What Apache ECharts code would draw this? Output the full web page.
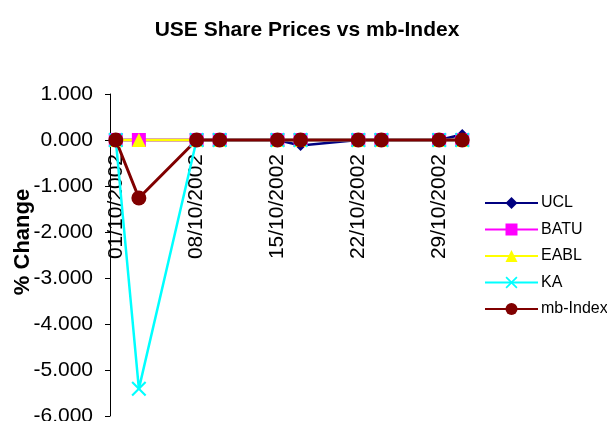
<!DOCTYPE html>
<html>
<head>
<meta charset="utf-8">
<script src="https://cdn.jsdelivr.net/npm/echarts@6/dist/echarts.min.js"></script>
<style>
  html, body { margin: 0; padding: 0; background: #fff; }
  #chart { width: 607px; height: 421px; }
</style>
</head>
<body>
<div id="chart"></div>
<script>
// every day of October 2002 (date axis, one slot per day)
var days = [
  '01/10/2002','02/10/2002','03/10/2002','04/10/2002','05/10/2002','06/10/2002','07/10/2002',
  '08/10/2002','09/10/2002','10/10/2002','11/10/2002','12/10/2002','13/10/2002','14/10/2002',
  '15/10/2002','16/10/2002','17/10/2002','18/10/2002','19/10/2002','20/10/2002','21/10/2002',
  '22/10/2002','23/10/2002','24/10/2002','25/10/2002','26/10/2002','27/10/2002','28/10/2002',
  '29/10/2002','30/10/2002','31/10/2002'
];
// trading days (Tue / Thu)
var tradeDates = ['01/10/2002','03/10/2002','08/10/2002','10/10/2002','15/10/2002',
                  '17/10/2002','22/10/2002','24/10/2002','29/10/2002','31/10/2002'];

var ucl     = [0, 0, 0, 0, 0, -0.12, 0, 0, 0, 0.12];
var batu    = [0, 0, 0, 0, 0, 0, 0, 0, 0, 0];
var eabl    = [0, 0, 0, 0, 0, 0, 0, 0, 0, 0];
var ka      = [0, -5.41, 0, 0, 0, 0, 0, 0, 0, 0];
var mbIndex = [0, -1.26, 0, 0, 0, 0, 0, 0, 0, 0];

var yTicks = [-6, -5, -4, -3, -2, -1, 0, 1];

function pairs(vals) {
  var out = [];
  for (var i = 0; i < vals.length; i++) {
    out.push([tradeDates[i], vals[i]]);
  }
  return out;
}

var crossPath = 'path://M0,1 L1,0 L5,4 L9,0 L10,1 L6,5 L10,9 L9,10 L5,6 L1,10 L0,9 L4,5 Z';

function mkSeries(name, vals, color, symbol, size, width) {
  return {
    name: name,
    type: 'line',
    data: pairs(vals),
    symbol: symbol,
    symbolSize: size,
    showAllSymbol: true,
    lineStyle: { color: color, width: width },
    itemStyle: { color: color },
    emphasis: { disabled: true },
    animation: false
  };
}

var labelFont = { fontFamily: 'Arial', fontSize: 21, color: '#000' };

var mychart = echarts.init(document.getElementById('chart'));
var option = {
  backgroundColor: '#fff',
  title: {
    text: 'USE Share Prices vs mb-Index',
    left: 302,
    textAlign: 'center',
    top: 15,
    textStyle: { fontFamily: 'Arial', fontSize: 21, fontWeight: 'bold', color: '#000' }
  },
  legend: {
    orient: 'vertical',
    left: 484,
    top: 195,
    padding: 0,
    itemWidth: 53,
    itemHeight: 15,
    itemGap: 10.5,
    textStyle: { fontFamily: 'Arial', fontSize: 16, color: '#000', padding: [0, 0, 0, -2] },
    data: ['UCL', 'BATU', 'EABL', 'KA', 'mb-Index']
  },
  grid: [
    // plot area
    { left: 110, top: 94, width: 358, height: 322, outerBoundsMode: 'none' },
    // upper part down to the zero line, only carries the date labels
    { left: 110, top: 94, width: 358, height: 46, outerBoundsMode: 'none' }
  ],
  xAxis: [{
    type: 'category',
    gridIndex: 0,
    data: days,
    boundaryGap: true,
    axisLine: { onZero: true, lineStyle: { color: '#000', width: 1 } },
    axisTick: { show: false },
    axisLabel: { show: false },
    splitLine: { show: false }
  }, {
    type: 'category',
    gridIndex: 1,
    data: days,
    boundaryGap: true,
    axisLine: { show: false },
    axisTick: { show: false },
    axisLabel: Object.assign({ interval: 6, rotate: 90, margin: 14, hideOverlap: false }, labelFont),
    splitLine: { show: false }
  }],
  yAxis: [{
    type: 'value',
    gridIndex: 0,
    min: yTicks[0],
    max: yTicks[yTicks.length - 1],
    interval: 1,
    axisLine: { show: true, lineStyle: { color: '#000', width: 1 } },
    axisTick: { show: true, inside: false, length: 5, lineStyle: { color: '#000' } },
    axisLabel: Object.assign({
      margin: 17,
      formatter: function (v) { return v.toFixed(3); }
    }, labelFont),
    splitLine: { show: false }
  }, {
    type: 'value',
    gridIndex: 1,
    min: 0,
    max: 1,
    show: false
  }],
  graphic: [{
    type: 'text',
    x: 23,
    y: 242,
    rotation: Math.PI / 2,
    style: {
      text: '% Change',
      font: 'bold 22px Arial',
      fill: '#000',
      align: 'center',
      verticalAlign: 'middle'
    }
  }],
  series: [
    mkSeries('UCL', ucl, '#000080', 'diamond', 11, 2.5),
    mkSeries('BATU', batu, '#ff00ff', 'rect', 14, 2.5),
    mkSeries('EABL', eabl, '#ffff00', 'triangle', 14, 2.5),
    mkSeries('KA', ka, '#00ffff', crossPath, 15, 2.5),
    mkSeries('mb-Index', mbIndex, '#800000', 'circle', 15, 3)
  ]
};
mychart.setOption(option);
</script>
</body>
</html>
